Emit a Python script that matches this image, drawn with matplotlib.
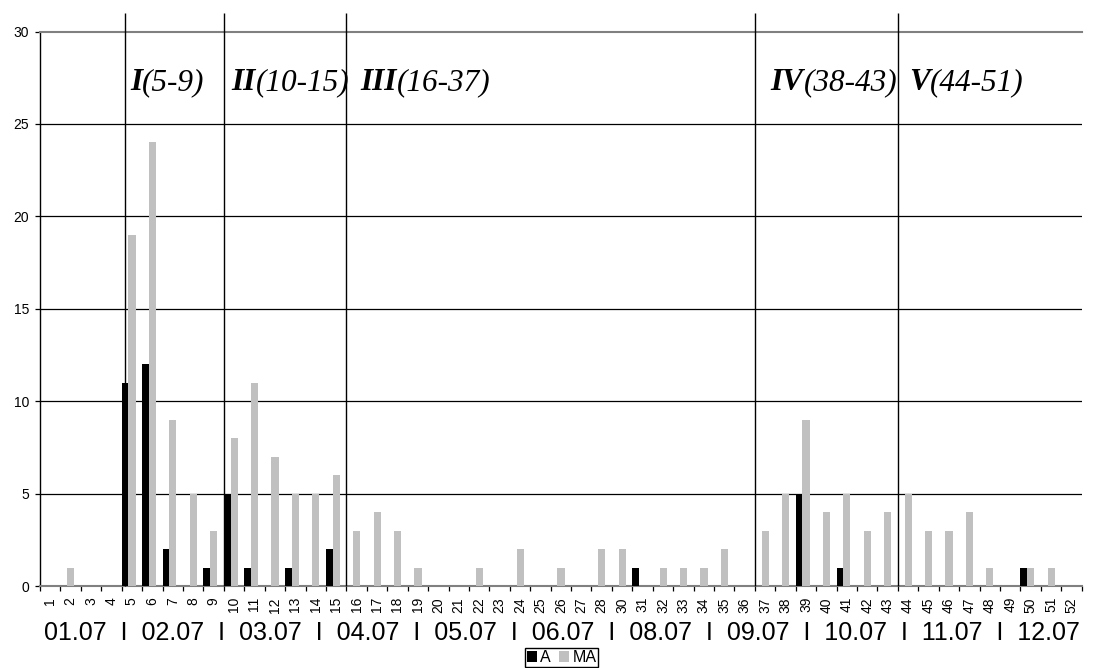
import matplotlib
matplotlib.use("Agg")
import matplotlib.pyplot as plt
from matplotlib.ticker import FixedLocator

# ---- data ----
weeks = [str(i) for i in range(1, 29)] + [str(i) for i in range(30, 53)]
a_vals = [0, 0, 0, 0, 11, 12, 2, 0, 1, 5, 1, 0, 1, 0, 2, 0, 0, 0, 0, 0, 0, 0, 0, 0, 0, 0, 0, 0,
          0, 1, 0, 0, 0, 0, 0, 0, 0, 5, 0, 1, 0, 0, 0, 0, 0, 0, 0, 0, 1, 0, 0]
ma_vals = [0, 1, 0, 0, 19, 24, 9, 5, 3, 8, 11, 7, 5, 5, 6, 3, 4, 3, 1, 0, 0, 1, 0, 2, 0, 1, 0, 2,
           2, 0, 1, 1, 1, 2, 0, 3, 5, 9, 4, 5, 3, 4, 5, 3, 3, 4, 1, 0, 1, 1, 0]
y_ticks = [0, 5, 10, 15, 20, 25, 30]
period_roman = ["I", "II", "III", "IV", "V"]
period_range = ["(5-9)", "(10-15)", "(16-37)", "(38-43)", "(44-51)"]
period_text_x = [3.90, 8.88, 15.20, 35.27, 42.04]
period_lines_x = [3.66, 8.5, 14.5, 34.5, 41.5]
date_labels = ["01.07", "02.07", "03.07", "04.07", "05.07", "06.07",
               "08.07", "09.07", "10.07", "11.07", "12.07"]
series_names = ["A", "MA"]

plt.rcParams["font.family"] = ["Liberation Sans", "DejaVu Sans"]

fig = plt.figure(figsize=(10.95, 6.68), dpi=100)
fig.patch.set_facecolor("white")
ax = fig.add_axes([40 / 1095, 1 - 586 / 668, (1081.7 - 40) / 1095, (586 - 31.5) / 668])

n = len(weeks)
xs = list(range(n))
ax.set_xlim(-0.5, n - 0.5)
ax.set_ylim(0, 30)

# gridlines
for yv in y_ticks[1:-1]:
    ax.axhline(yv, color="black", lw=0.9, zorder=1)

# bars
ax.bar([x - 0.5 for x in xs], a_vals, width=0.33, align="edge", color="black",
       label=series_names[0], zorder=3)
ax.bar([x - 0.17 for x in xs], ma_vals, width=0.35, align="edge", color="#C0C0C0",
       label=series_names[1], zorder=3)

# period separator lines
ax.vlines(period_lines_x, 0, 31.0, colors="black", lw=1.0, clip_on=False, zorder=4)

# period labels
for xr, rom, rng in zip(period_text_x, period_roman, period_range):
    t1 = ax.text(xr, 26.85, rom, fontfamily=["Liberation Serif"], fontweight="bold",
                 fontstyle="italic", fontsize=22.5, va="baseline", ha="left", zorder=5)
    ax.annotate(rng, xy=(1, 0), xycoords=t1, fontfamily=["Liberation Serif"],
                fontstyle="italic", fontsize=22.5, va="bottom", ha="left", zorder=5)

# spines
ax.spines["right"].set_visible(False)
ax.spines["top"].set_color("#808080")
ax.spines["top"].set_linewidth(1.5)
ax.spines["bottom"].set_color("#808080")
ax.spines["bottom"].set_linewidth(1.5)
ax.spines["left"].set_color("black")
ax.spines["left"].set_linewidth(1.0)

# y axis
ax.set_yticks(y_ticks)
ax.set_yticklabels([str(v) for v in y_ticks])
ax.tick_params(axis="y", length=3.3, width=0.9, pad=4.5, labelsize=10)

# x axis: labels at centers, tick marks at boundaries
ax.set_xticks(xs)
ax.set_xticklabels(weeks, rotation=90, fontsize=10)
ax.tick_params(axis="x", which="major", length=0, pad=8)
ax.xaxis.set_minor_locator(FixedLocator([x - 0.5 for x in range(n + 1)]))
ax.tick_params(axis="x", which="minor", length=3.3, width=0.9, color="black")

# month labels line
fig.text(562 / 1095, 1 - 639.5 / 668, "  I  ".join(date_labels), fontsize=18,
         ha="center", va="baseline")

# legend
leg = fig.legend(loc="center", bbox_to_anchor=(561.5 / 1095, 1 - 657.5 / 668), ncol=2,
                 fontsize=11.5, frameon=True, fancybox=False, framealpha=1,
                 edgecolor="black", handlelength=0.65, handleheight=0.65,
                 handletextpad=0.2, columnspacing=0.5, borderpad=0.1, borderaxespad=0)
leg.get_frame().set_linewidth(1.0)

fig.savefig("out.png", dpi=100, facecolor="white")
